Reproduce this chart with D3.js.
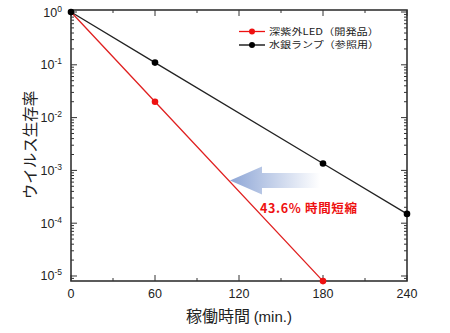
<!DOCTYPE html>
<html><head><meta charset="utf-8">
<script src="https://cdn.jsdelivr.net/npm/d3@7"></script>
<style>body{margin:0;background:#fff}svg{display:block}</style>
</head><body>
<script>
const times = [0, 60, 180];
const ledValues = [1, 0.02, 8e-6];
const lampTimes = [0, 60, 180, 240];
const lampValues = [1, 0.11, 1.35e-3, 1.5e-4];
const xTicks = [0, 60, 120, 180, 240];
const yExponents = [0, -1, -2, -3, -4, -5];
const seriesNames = ["深紫外LED（開発品）", "水銀ランプ（参照用）"];
const annotation = "43.6%  時間短縮";

const W = 450, H = 333;
const m = {l: 71, r: 43, t: 10, b: 52};
const svg = d3.select("body").append("svg").attr("width", W).attr("height", H);
const font = "'Liberation Sans', Arial, 'Noto Sans CJK JP', sans-serif";
const jfont = "'Noto Sans CJK JP', sans-serif";

const x = d3.scaleLinear().domain([0, 240]).range([m.l, W - m.r]);
const y = d3.scaleLog().domain([Math.pow(10, -5.095), Math.pow(10, 0.038)]).range([H - m.b, m.t]);

const defs = svg.append("defs");
const grad = defs.append("linearGradient").attr("id", "ag").attr("x1", "0").attr("x2", "1");
grad.append("stop").attr("offset", "0").attr("stop-color", "#8ea6d6");
grad.append("stop").attr("offset", "1").attr("stop-color", "#ffffff");

const g = svg.append("g");
const stroke = "#333";

// minor/major ticks
const minorY = [];
for (let e = -6; e <= 0; e++) for (let k = 2; k <= 9; k++) {
  const v = k * Math.pow(10, e);
  if (v >= y.domain()[0] && v <= y.domain()[1]) minorY.push(v);
}
const majorY = yExponents.map(e => Math.pow(10, e));
const x0 = x(0), x1 = x(240), yb = y.range()[0], yt = y.range()[1];
function tick(x_1, y_1, x_2, y_2) {
  g.append("line").attr("x1", x_1).attr("y1", y_1).attr("x2", x_2).attr("y2", y_2).attr("stroke", stroke).attr("stroke-width", 1);
}
minorY.forEach(v => { tick(x0, y(v), x0 + 3, y(v)); tick(x1, y(v), x1 - 3, y(v)); });
majorY.forEach(v => { tick(x0, y(v), x0 + 6, y(v)); tick(x1, y(v), x1 - 6, y(v)); });
const minorX = d3.range(30, 240, 60);
minorX.forEach(v => { tick(x(v), yb, x(v), yb - 3); tick(x(v), yt, x(v), yt + 3); });
xTicks.forEach(v => { tick(x(v), yb, x(v), yb - 6); tick(x(v), yt, x(v), yt + 6); });

// frame
g.append("rect").attr("x", x0).attr("y", yt).attr("width", x1 - x0).attr("height", yb - yt)
  .attr("fill", "none").attr("stroke", stroke).attr("stroke-width", 1.6);

// y tick labels
majorY.forEach((v, i) => {
  const t = g.append("text").attr("x", x0 - 9).attr("y", y(v) + 4.5).attr("text-anchor", "end")
    .attr("font-family", font).attr("font-size", 12.5).attr("fill", "#222");
  t.append("tspan").text("10");
  t.append("tspan").attr("dy", -5).attr("font-size", 8.5).text(String(yExponents[i]));
});
// x tick labels
xTicks.forEach(v => {
  g.append("text").attr("x", x(v)).attr("y", yb + 17).attr("text-anchor", "middle")
    .attr("font-family", font).attr("font-size", 12.5).attr("fill", "#222").text(v);
});

// axis titles
const xt = g.append("text").attr("x", 239).attr("y", 322).attr("text-anchor", "middle")
  .attr("font-family", jfont).attr("font-size", 16).attr("fill", "#222");
xt.append("tspan").text("稼働時間 ");
xt.append("tspan").attr("font-family", font).attr("font-size", 15).text("(min.)");
g.append("text").attr("transform", "translate(36," + 145 + ") rotate(-90)").attr("text-anchor", "middle")
  .attr("font-family", jfont).attr("font-size", 15.5).attr("fill", "#222").text("ウイルス生存率");

// arrow
const ay = 180.5;
const ap = [[230, ay], [262, ay - 14], [262, ay - 7.5], [320, ay - 7.5], [320, ay + 7.5], [262, ay + 7.5], [262, ay + 14]];
g.append("path").attr("d", "M" + ap.map(p => p.join(",")).join("L") + "Z").attr("fill", "url(#ag)");

// lines
const line = d3.line().x(d => x(d[0])).y(d => y(d[1]));
const lamp = lampTimes.map((t, i) => [t, lampValues[i]]);
const led = times.map((t, i) => [t, ledValues[i]]);
g.append("path").attr("d", line(lamp)).attr("fill", "none").attr("stroke", "#222").attr("stroke-width", 1.3);
g.append("path").attr("d", line(led)).attr("fill", "none").attr("stroke", "#e02020").attr("stroke-width", 1.3);
g.selectAll(".pl").data(lamp).enter().append("circle").attr("cx", d => x(d[0])).attr("cy", d => y(d[1])).attr("r", 3.3).attr("fill", "#000");
g.selectAll(".pr").data(led.slice(1)).enter().append("circle").attr("cx", d => x(d[0])).attr("cy", d => y(d[1])).attr("r", 3.3).attr("fill", "#ee1111");

// annotation
g.append("text").attr("x", 260).attr("y", 213).attr("font-family", jfont).attr("font-weight", "bold")
  .attr("font-size", 12.5).attr("fill", "#ee1111").attr("textLength", 97).attr("lengthAdjust", "spacing").text(annotation);

// legend
const legColors = ["#ee1111", "#000"];
seriesNames.forEach((n, i) => {
  const ly = 31.5 + i * 13.5;
  g.append("line").attr("x1", 239).attr("x2", 265).attr("y1", ly).attr("y2", ly).attr("stroke", legColors[i]).attr("stroke-width", 1.3);
  g.append("circle").attr("cx", 252).attr("cy", ly).attr("r", 3).attr("fill", legColors[i]);
  g.append("text").attr("x", 269).attr("y", ly + 3.4).attr("font-family", jfont).attr("font-size", 9.2).attr("fill", "#222")
    .attr("textLength", 110).attr("lengthAdjust", "spacingAndGlyphs").text(n);
});
</script>
</body></html>
